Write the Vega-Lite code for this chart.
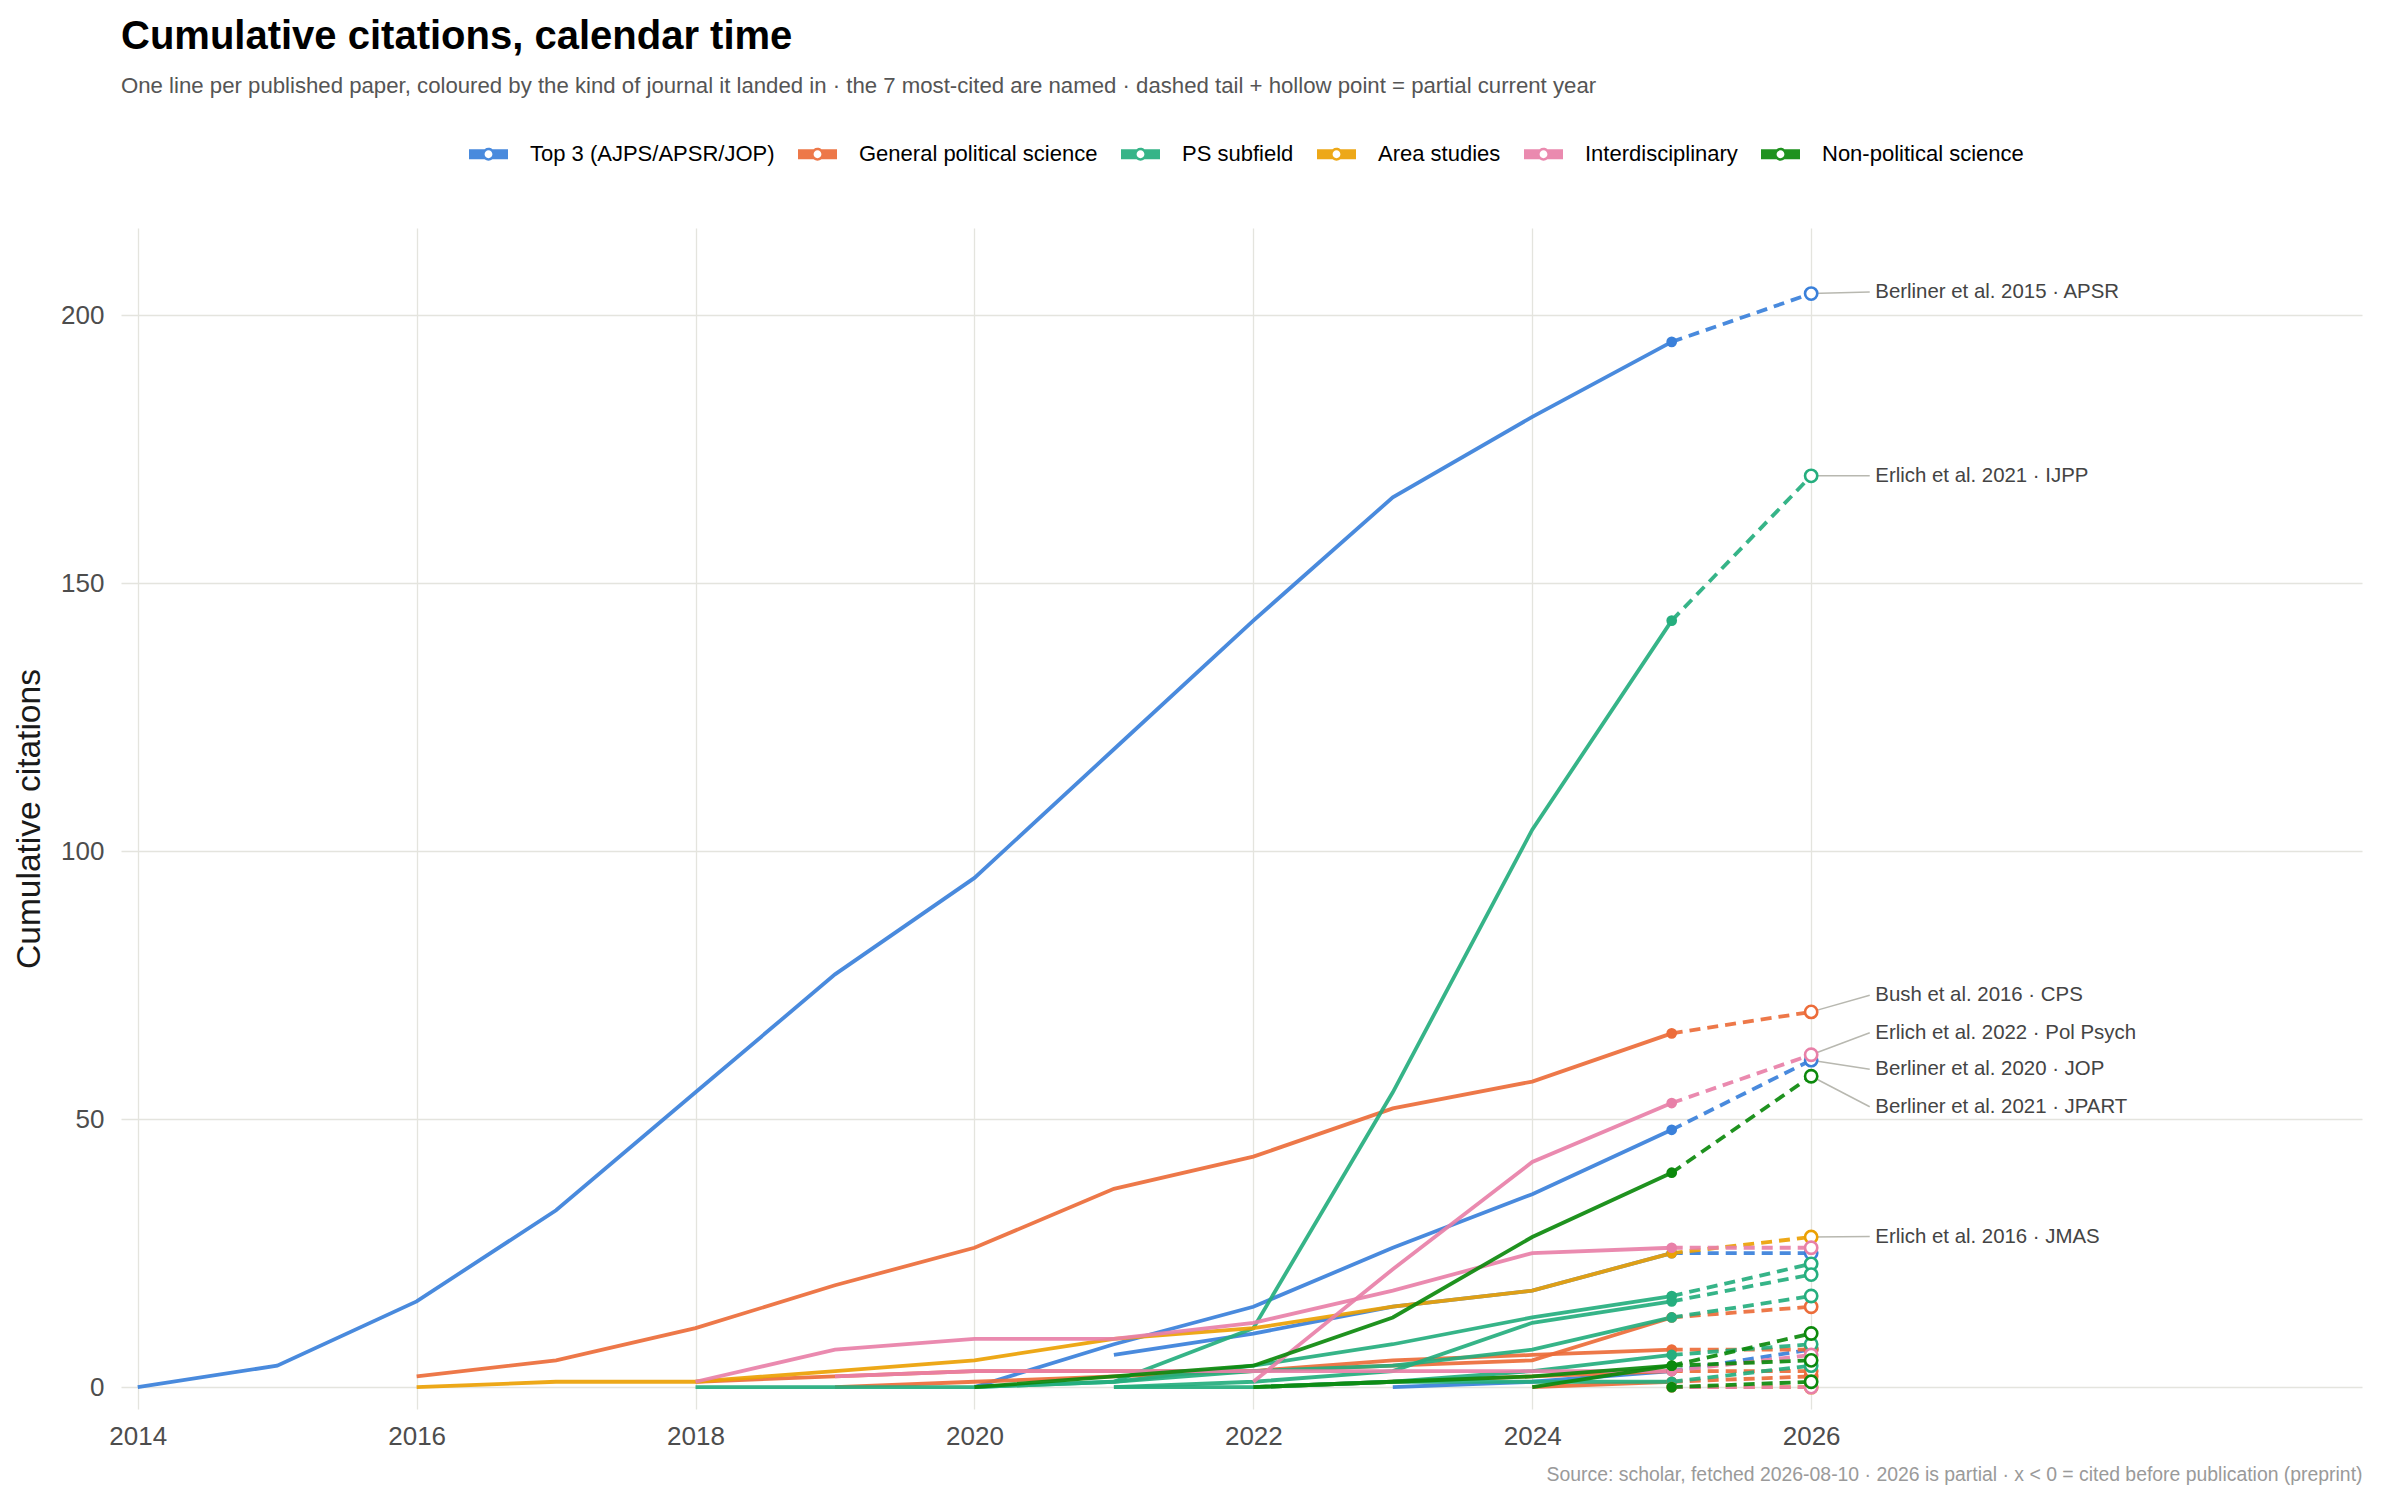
{
  "$schema": "https://vega.github.io/schema/vega-lite/v6.json",
  "width": 2241,
  "height": 1181,
  "autosize": "none",
  "padding": {"left": 121, "top": 228, "right": 38, "bottom": 91},
  "background": "white",
  "title": {
    "text": "Cumulative citations, calendar time",
    "subtitle": "One line per published paper, coloured by the kind of journal it landed in · the 7 most-cited are named · dashed tail + hollow point = partial current year",
    "anchor": "start",
    "frame": "group",
    "offset": 37,
    "fontSize": 40,
    "fontWeight": "bold",
    "color": "#000000",
    "subtitleFontSize": 22.2,
    "subtitleColor": "#555555",
    "subtitlePadding": 18
  },
  "datasets": {
    "papers": [
      {"id": "B1", "kind": "Top 3 (AJPS/APSR/JOP)", "year": 2014, "cites": 0},
      {"id": "B1", "kind": "Top 3 (AJPS/APSR/JOP)", "year": 2015, "cites": 4},
      {"id": "B1", "kind": "Top 3 (AJPS/APSR/JOP)", "year": 2016, "cites": 16},
      {"id": "B1", "kind": "Top 3 (AJPS/APSR/JOP)", "year": 2017, "cites": 33},
      {"id": "B1", "kind": "Top 3 (AJPS/APSR/JOP)", "year": 2018, "cites": 55},
      {"id": "B1", "kind": "Top 3 (AJPS/APSR/JOP)", "year": 2019, "cites": 77},
      {"id": "B1", "kind": "Top 3 (AJPS/APSR/JOP)", "year": 2020, "cites": 95},
      {"id": "B1", "kind": "Top 3 (AJPS/APSR/JOP)", "year": 2021, "cites": 119},
      {"id": "B1", "kind": "Top 3 (AJPS/APSR/JOP)", "year": 2022, "cites": 143},
      {"id": "B1", "kind": "Top 3 (AJPS/APSR/JOP)", "year": 2023, "cites": 166},
      {"id": "B1", "kind": "Top 3 (AJPS/APSR/JOP)", "year": 2024, "cites": 181},
      {"id": "B1", "kind": "Top 3 (AJPS/APSR/JOP)", "year": 2025, "cites": 195},
      {"id": "B1", "kind": "Top 3 (AJPS/APSR/JOP)", "year": 2026, "cites": 204},
      {"id": "B2", "kind": "Top 3 (AJPS/APSR/JOP)", "year": 2020, "cites": 0},
      {"id": "B2", "kind": "Top 3 (AJPS/APSR/JOP)", "year": 2021, "cites": 8},
      {"id": "B2", "kind": "Top 3 (AJPS/APSR/JOP)", "year": 2022, "cites": 15},
      {"id": "B2", "kind": "Top 3 (AJPS/APSR/JOP)", "year": 2023, "cites": 26},
      {"id": "B2", "kind": "Top 3 (AJPS/APSR/JOP)", "year": 2024, "cites": 36},
      {"id": "B2", "kind": "Top 3 (AJPS/APSR/JOP)", "year": 2025, "cites": 48},
      {"id": "B2", "kind": "Top 3 (AJPS/APSR/JOP)", "year": 2026, "cites": 61},
      {"id": "B3", "kind": "Top 3 (AJPS/APSR/JOP)", "year": 2021, "cites": 6},
      {"id": "B3", "kind": "Top 3 (AJPS/APSR/JOP)", "year": 2022, "cites": 10},
      {"id": "B3", "kind": "Top 3 (AJPS/APSR/JOP)", "year": 2023, "cites": 15},
      {"id": "B3", "kind": "Top 3 (AJPS/APSR/JOP)", "year": 2024, "cites": 18},
      {"id": "B3", "kind": "Top 3 (AJPS/APSR/JOP)", "year": 2025, "cites": 25},
      {"id": "B3", "kind": "Top 3 (AJPS/APSR/JOP)", "year": 2026, "cites": 25},
      {"id": "B4", "kind": "Top 3 (AJPS/APSR/JOP)", "year": 2023, "cites": 0},
      {"id": "B4", "kind": "Top 3 (AJPS/APSR/JOP)", "year": 2024, "cites": 1},
      {"id": "B4", "kind": "Top 3 (AJPS/APSR/JOP)", "year": 2025, "cites": 3},
      {"id": "B4", "kind": "Top 3 (AJPS/APSR/JOP)", "year": 2026, "cites": 7},
      {"id": "R1", "kind": "General political science", "year": 2016, "cites": 2},
      {"id": "R1", "kind": "General political science", "year": 2017, "cites": 5},
      {"id": "R1", "kind": "General political science", "year": 2018, "cites": 11},
      {"id": "R1", "kind": "General political science", "year": 2019, "cites": 19},
      {"id": "R1", "kind": "General political science", "year": 2020, "cites": 26},
      {"id": "R1", "kind": "General political science", "year": 2021, "cites": 37},
      {"id": "R1", "kind": "General political science", "year": 2022, "cites": 43},
      {"id": "R1", "kind": "General political science", "year": 2023, "cites": 52},
      {"id": "R1", "kind": "General political science", "year": 2024, "cites": 57},
      {"id": "R1", "kind": "General political science", "year": 2025, "cites": 66},
      {"id": "R1", "kind": "General political science", "year": 2026, "cites": 70},
      {"id": "R2", "kind": "General political science", "year": 2018, "cites": 1},
      {"id": "R2", "kind": "General political science", "year": 2019, "cites": 2},
      {"id": "R2", "kind": "General political science", "year": 2020, "cites": 3},
      {"id": "R2", "kind": "General political science", "year": 2021, "cites": 3},
      {"id": "R2", "kind": "General political science", "year": 2022, "cites": 3},
      {"id": "R2", "kind": "General political science", "year": 2023, "cites": 5},
      {"id": "R2", "kind": "General political science", "year": 2024, "cites": 6},
      {"id": "R2", "kind": "General political science", "year": 2025, "cites": 7},
      {"id": "R2", "kind": "General political science", "year": 2026, "cites": 7},
      {"id": "R3", "kind": "General political science", "year": 2019, "cites": 0},
      {"id": "R3", "kind": "General political science", "year": 2020, "cites": 1},
      {"id": "R3", "kind": "General political science", "year": 2021, "cites": 2},
      {"id": "R3", "kind": "General political science", "year": 2022, "cites": 3},
      {"id": "R3", "kind": "General political science", "year": 2023, "cites": 4},
      {"id": "R3", "kind": "General political science", "year": 2024, "cites": 5},
      {"id": "R3", "kind": "General political science", "year": 2025, "cites": 13},
      {"id": "R3", "kind": "General political science", "year": 2026, "cites": 15},
      {"id": "R4", "kind": "General political science", "year": 2024, "cites": 0},
      {"id": "R4", "kind": "General political science", "year": 2025, "cites": 1},
      {"id": "R4", "kind": "General political science", "year": 2026, "cites": 2},
      {"id": "R5", "kind": "General political science", "year": 2022, "cites": 0},
      {"id": "R5", "kind": "General political science", "year": 2023, "cites": 1},
      {"id": "R5", "kind": "General political science", "year": 2024, "cites": 2},
      {"id": "R5", "kind": "General political science", "year": 2025, "cites": 3},
      {"id": "R5", "kind": "General political science", "year": 2026, "cites": 3},
      {"id": "T1", "kind": "PS subfield", "year": 2021, "cites": 1},
      {"id": "T1", "kind": "PS subfield", "year": 2022, "cites": 11},
      {"id": "T1", "kind": "PS subfield", "year": 2023, "cites": 55},
      {"id": "T1", "kind": "PS subfield", "year": 2024, "cites": 104},
      {"id": "T1", "kind": "PS subfield", "year": 2025, "cites": 143},
      {"id": "T1", "kind": "PS subfield", "year": 2026, "cites": 170},
      {"id": "T2", "kind": "PS subfield", "year": 2018, "cites": 0},
      {"id": "T2", "kind": "PS subfield", "year": 2019, "cites": 0},
      {"id": "T2", "kind": "PS subfield", "year": 2020, "cites": 0},
      {"id": "T2", "kind": "PS subfield", "year": 2021, "cites": 1},
      {"id": "T2", "kind": "PS subfield", "year": 2022, "cites": 4},
      {"id": "T2", "kind": "PS subfield", "year": 2023, "cites": 8},
      {"id": "T2", "kind": "PS subfield", "year": 2024, "cites": 13},
      {"id": "T2", "kind": "PS subfield", "year": 2025, "cites": 17},
      {"id": "T2", "kind": "PS subfield", "year": 2026, "cites": 23},
      {"id": "T3", "kind": "PS subfield", "year": 2021, "cites": 0},
      {"id": "T3", "kind": "PS subfield", "year": 2022, "cites": 1},
      {"id": "T3", "kind": "PS subfield", "year": 2023, "cites": 3},
      {"id": "T3", "kind": "PS subfield", "year": 2024, "cites": 12},
      {"id": "T3", "kind": "PS subfield", "year": 2025, "cites": 16},
      {"id": "T3", "kind": "PS subfield", "year": 2026, "cites": 21},
      {"id": "T4", "kind": "PS subfield", "year": 2020, "cites": 0},
      {"id": "T4", "kind": "PS subfield", "year": 2021, "cites": 1},
      {"id": "T4", "kind": "PS subfield", "year": 2022, "cites": 3},
      {"id": "T4", "kind": "PS subfield", "year": 2023, "cites": 4},
      {"id": "T4", "kind": "PS subfield", "year": 2024, "cites": 7},
      {"id": "T4", "kind": "PS subfield", "year": 2025, "cites": 13},
      {"id": "T4", "kind": "PS subfield", "year": 2026, "cites": 17},
      {"id": "T5", "kind": "PS subfield", "year": 2022, "cites": 0},
      {"id": "T5", "kind": "PS subfield", "year": 2023, "cites": 1},
      {"id": "T5", "kind": "PS subfield", "year": 2024, "cites": 3},
      {"id": "T5", "kind": "PS subfield", "year": 2025, "cites": 6},
      {"id": "T5", "kind": "PS subfield", "year": 2026, "cites": 8},
      {"id": "T6", "kind": "PS subfield", "year": 2021, "cites": 0},
      {"id": "T6", "kind": "PS subfield", "year": 2022, "cites": 0},
      {"id": "T6", "kind": "PS subfield", "year": 2023, "cites": 1},
      {"id": "T6", "kind": "PS subfield", "year": 2024, "cites": 1},
      {"id": "T6", "kind": "PS subfield", "year": 2025, "cites": 1},
      {"id": "T6", "kind": "PS subfield", "year": 2026, "cites": 4},
      {"id": "A1", "kind": "Area studies", "year": 2016, "cites": 0},
      {"id": "A1", "kind": "Area studies", "year": 2017, "cites": 1},
      {"id": "A1", "kind": "Area studies", "year": 2018, "cites": 1},
      {"id": "A1", "kind": "Area studies", "year": 2019, "cites": 3},
      {"id": "A1", "kind": "Area studies", "year": 2020, "cites": 5},
      {"id": "A1", "kind": "Area studies", "year": 2021, "cites": 9},
      {"id": "A1", "kind": "Area studies", "year": 2022, "cites": 11},
      {"id": "A1", "kind": "Area studies", "year": 2023, "cites": 15},
      {"id": "A1", "kind": "Area studies", "year": 2024, "cites": 18},
      {"id": "A1", "kind": "Area studies", "year": 2025, "cites": 25},
      {"id": "A1", "kind": "Area studies", "year": 2026, "cites": 28},
      {"id": "A2", "kind": "Area studies", "year": 2025, "cites": 0},
      {"id": "A2", "kind": "Area studies", "year": 2026, "cites": 0},
      {"id": "P1", "kind": "Interdisciplinary", "year": 2022, "cites": 1},
      {"id": "P1", "kind": "Interdisciplinary", "year": 2023, "cites": 22},
      {"id": "P1", "kind": "Interdisciplinary", "year": 2024, "cites": 42},
      {"id": "P1", "kind": "Interdisciplinary", "year": 2025, "cites": 53},
      {"id": "P1", "kind": "Interdisciplinary", "year": 2026, "cites": 62},
      {"id": "P2", "kind": "Interdisciplinary", "year": 2018, "cites": 1},
      {"id": "P2", "kind": "Interdisciplinary", "year": 2019, "cites": 7},
      {"id": "P2", "kind": "Interdisciplinary", "year": 2020, "cites": 9},
      {"id": "P2", "kind": "Interdisciplinary", "year": 2021, "cites": 9},
      {"id": "P2", "kind": "Interdisciplinary", "year": 2022, "cites": 12},
      {"id": "P2", "kind": "Interdisciplinary", "year": 2023, "cites": 18},
      {"id": "P2", "kind": "Interdisciplinary", "year": 2024, "cites": 25},
      {"id": "P2", "kind": "Interdisciplinary", "year": 2025, "cites": 26},
      {"id": "P2", "kind": "Interdisciplinary", "year": 2026, "cites": 26},
      {"id": "P3", "kind": "Interdisciplinary", "year": 2019, "cites": 2},
      {"id": "P3", "kind": "Interdisciplinary", "year": 2020, "cites": 3},
      {"id": "P3", "kind": "Interdisciplinary", "year": 2021, "cites": 3},
      {"id": "P3", "kind": "Interdisciplinary", "year": 2022, "cites": 3},
      {"id": "P3", "kind": "Interdisciplinary", "year": 2023, "cites": 3},
      {"id": "P3", "kind": "Interdisciplinary", "year": 2024, "cites": 3},
      {"id": "P3", "kind": "Interdisciplinary", "year": 2025, "cites": 3},
      {"id": "P3", "kind": "Interdisciplinary", "year": 2026, "cites": 6},
      {"id": "P4", "kind": "Interdisciplinary", "year": 2025, "cites": 0},
      {"id": "P4", "kind": "Interdisciplinary", "year": 2026, "cites": 0},
      {"id": "G1", "kind": "Non-political science", "year": 2020, "cites": 0},
      {"id": "G1", "kind": "Non-political science", "year": 2021, "cites": 2},
      {"id": "G1", "kind": "Non-political science", "year": 2022, "cites": 4},
      {"id": "G1", "kind": "Non-political science", "year": 2023, "cites": 13},
      {"id": "G1", "kind": "Non-political science", "year": 2024, "cites": 28},
      {"id": "G1", "kind": "Non-political science", "year": 2025, "cites": 40},
      {"id": "G1", "kind": "Non-political science", "year": 2026, "cites": 58},
      {"id": "G2", "kind": "Non-political science", "year": 2024, "cites": 0},
      {"id": "G2", "kind": "Non-political science", "year": 2025, "cites": 4},
      {"id": "G2", "kind": "Non-political science", "year": 2026, "cites": 10},
      {"id": "G3", "kind": "Non-political science", "year": 2022, "cites": 0},
      {"id": "G3", "kind": "Non-political science", "year": 2023, "cites": 1},
      {"id": "G3", "kind": "Non-political science", "year": 2024, "cites": 2},
      {"id": "G3", "kind": "Non-political science", "year": 2025, "cites": 4},
      {"id": "G3", "kind": "Non-political science", "year": 2026, "cites": 5},
      {"id": "G4", "kind": "Non-political science", "year": 2025, "cites": 0},
      {"id": "G4", "kind": "Non-political science", "year": 2026, "cites": 1}
    ],
    "labels": [
      {"label": "Berliner et al. 2015 · APSR", "year": 2026, "cites": 204, "label_cites": 204.3},
      {"label": "Erlich et al. 2021 · IJPP", "year": 2026, "cites": 170, "label_cites": 170},
      {"label": "Bush et al. 2016 · CPS", "year": 2026, "cites": 70, "label_cites": 73.1},
      {"label": "Erlich et al. 2022 · Pol Psych", "year": 2026, "cites": 62, "label_cites": 66.1},
      {"label": "Berliner et al. 2020 · JOP", "year": 2026, "cites": 61, "label_cites": 59.3},
      {"label": "Berliner et al. 2021 · JPART", "year": 2026, "cites": 58, "label_cites": 52.3},
      {"label": "Erlich et al. 2016 · JMAS", "year": 2026, "cites": 28, "label_cites": 28.1}
    ]
  },
  "data": {"name": "papers"},
  "encoding": {
    "x": {
      "field": "year",
      "type": "quantitative",
      "scale": {"domain": [2013.88, 2029.95], "nice": false, "zero": false},
      "axis": {
        "values": [2014, 2016, 2018, 2020, 2022, 2024, 2026],
        "format": "d",
        "title": "Source: scholar, fetched 2026-08-10 · 2026 is partial · x < 0 = cited before publication (preprint)",
        "titleAnchor": "end",
        "titleFontSize": 19.4,
        "titleFontWeight": "normal",
        "titleColor": "#9A9A9A",
        "titlePadding": 16,
        "labelPadding": 14
      }
    },
    "y": {
      "field": "cites",
      "type": "quantitative",
      "scale": {"domain": [-4.08, 216.24], "nice": false, "zero": false},
      "axis": {
        "values": [0, 50, 100, 150, 200],
        "title": "Cumulative citations",
        "titleFontSize": 33.5,
        "titleFontWeight": "normal",
        "titleColor": "#1A1A1A",
        "titlePadding": 14,
        "labelPadding": 17
      }
    },
    "color": {
      "field": "kind",
      "type": "nominal",
      "scale": {
        "domain": ["Top 3 (AJPS/APSR/JOP)", "General political science", "PS subfield", "Area studies", "Interdisciplinary", "Non-political science"],
        "range": ["#3A80DA", "#EC6C3A", "#25AE7E", "#EBA104", "#E880A8", "#0C890C"]
      },
      "legend": {
        "encode": {
          "symbols": {
            "update": {
              "fill": {"scale": "color", "field": "value"},
              "stroke": {"value": "transparent"},
              "opacity": {"value": 1}
            }
          }
        }
      }
    }
  },
  "layer": [
    {
      "transform": [{"filter": "datum.year <= 2025"}],
      "mark": {"type": "line", "strokeWidth": 3.8, "opacity": 0.92},
      "encoding": {"detail": {"field": "id"}}
    },
    {
      "transform": [{"filter": "datum.year >= 2025"}],
      "mark": {"type": "line", "strokeWidth": 3.8, "strokeDash": [11, 7], "opacity": 0.92},
      "encoding": {"detail": {"field": "id"}}
    },
    {
      "data": {"name": "labels"},
      "mark": {"type": "rule", "color": "#B8B8B0", "strokeWidth": 1.5},
      "encoding": {
        "x": {"field": "year", "type": "quantitative"},
        "y": {"field": "cites", "type": "quantitative"},
        "x2": {"datum": 2026.42},
        "y2": {"field": "label_cites"},
        "color": {"value": "#B8B8B0"}
      }
    },
    {
      "transform": [{"filter": "datum.year == 2025"}],
      "mark": {"type": "point", "filled": true, "size": 115, "opacity": 1}
    },
    {
      "transform": [{"filter": "datum.year == 2026"}],
      "mark": {"type": "point", "filled": false, "fill": "white", "fillOpacity": 1, "size": 150, "strokeWidth": 2.6, "opacity": 1}
    },
    {
      "data": {"name": "labels"},
      "mark": {"type": "text", "align": "left", "baseline": "middle", "fontSize": 20.4, "color": "#444444"},
      "encoding": {
        "x": {"datum": 2026.46},
        "y": {"field": "label_cites", "type": "quantitative"},
        "text": {"field": "label"},
        "color": {"value": "#444444"}
      }
    }
  ],
  "config": {
    "font": "Liberation Sans",
    "view": {"stroke": null},
    "axis": {
      "grid": true,
      "gridColor": "#E4E4DE",
      "gridWidth": 1.3,
      "ticks": false,
      "domain": false,
      "labelFontSize": 26,
      "labelColor": "#4D4D4D"
    },
    "legend": {
      "orient": "none",
      "legendX": 348,
      "legendY": -93.5,
      "direction": "horizontal",
      "columns": 6,
      "title": null,
      "padding": 0,
      "labelFontSize": 22,
      "labelLimit": 0,
      "labelColor": "#000000",
      "labelOffset": 22,
      "columnPadding": 23,
      "symbolSize": 1521,
      "symbolStrokeWidth": 0,
      "symbolType": "M-1,-0.26 L-0.203,-0.26 A0.33,0.33 0 0,1 0.203,-0.26 L1,-0.26 L1,0.26 L0.203,0.26 A0.33,0.33 0 0,1 -0.203,0.26 L-1,0.26 Z M0.2,0 A0.2,0.2 0 1,0 -0.2,0 A0.2,0.2 0 1,0 0.2,0 Z"
    }
  }
}
